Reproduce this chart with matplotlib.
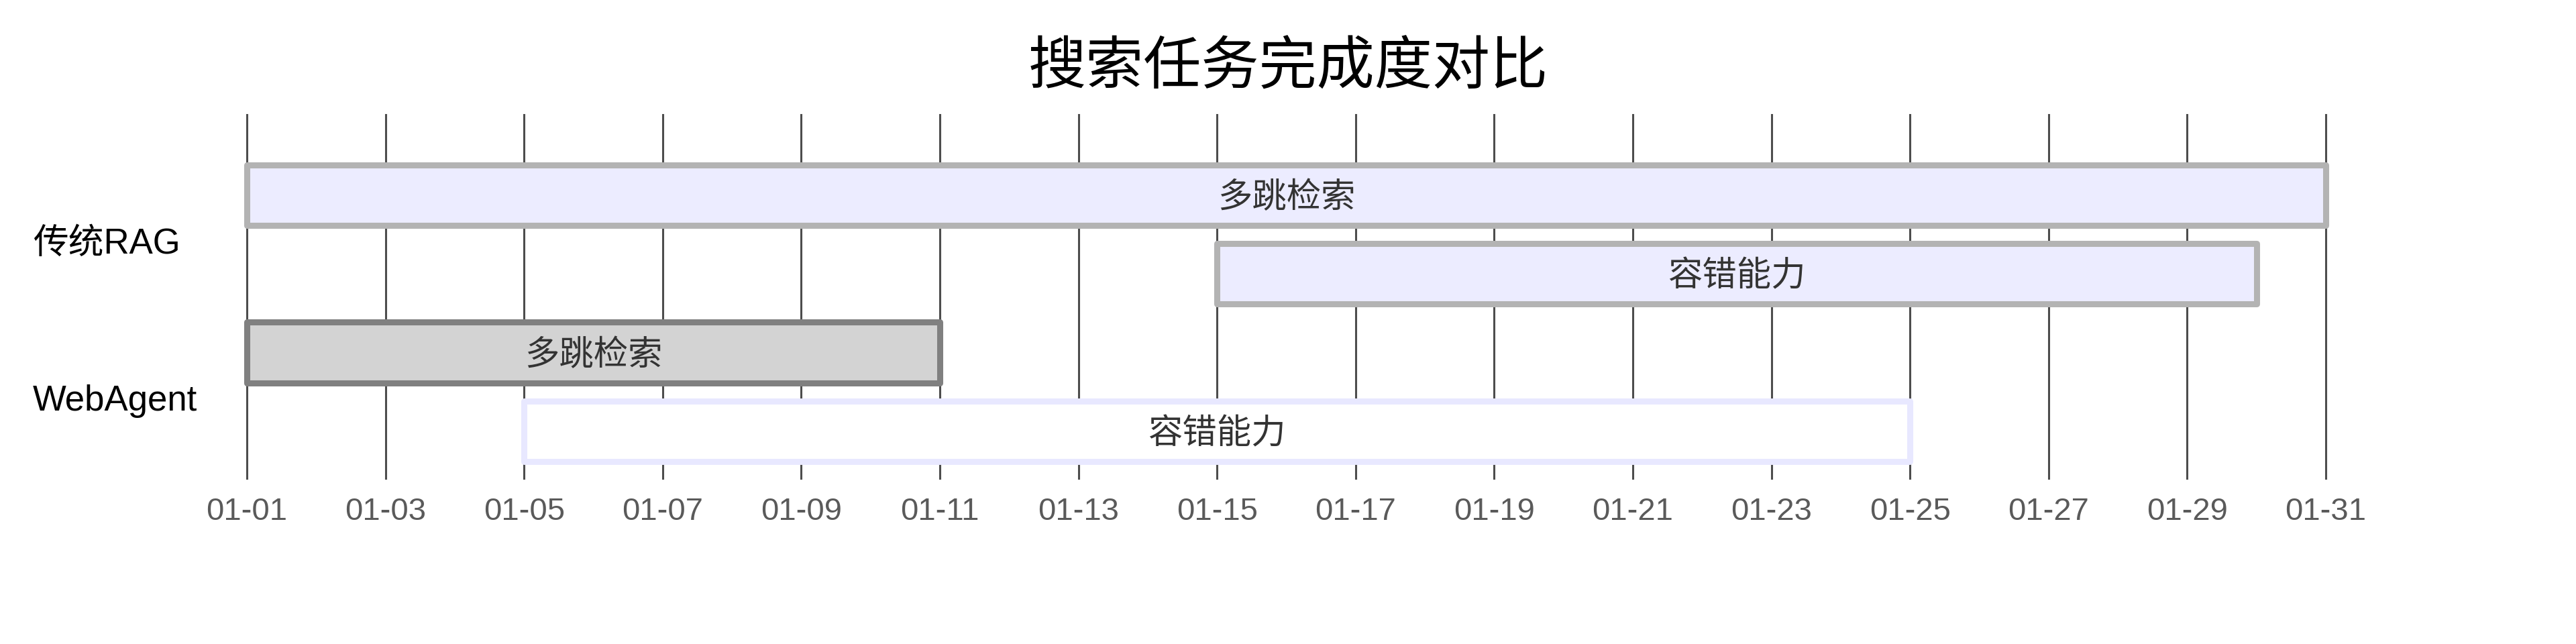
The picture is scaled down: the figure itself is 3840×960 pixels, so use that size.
import matplotlib
matplotlib.use('Agg')
import matplotlib.pyplot as plt
import matplotlib.dates as mdates
import matplotlib.transforms as mtransforms
import numpy as np
from datetime import datetime

plt.rcParams['font.family'] = ['Liberation Sans', 'Noto Sans CJK SC']

title = '搜索任务完成度对比'
sections = ['传统RAG', 'WebAgent']
task_names = ['多跳检索', '容错能力', '多跳检索', '容错能力']
task_section = [0, 0, 1, 1]
task_start = ['2024-01-01', '2024-01-15', '2024-01-01', '2024-01-05']
task_end = ['2024-01-31', '2024-01-30', '2024-01-11', '2024-01-25']

# styles (mermaid-like)
fill_colors = ['#ECECFF', '#ECECFF', '#D3D3D3', '#FFFFFF']
edge_colors = ['#B3B3B3', '#B3B3B3', '#808080', '#E8E8FF']

start = mdates.date2num([datetime.strptime(d, '%Y-%m-%d') for d in task_start])
end = mdates.date2num([datetime.strptime(d, '%Y-%m-%d') for d in task_end])
rows = np.arange(len(task_names))

fig = plt.figure(figsize=(38.4, 9.6), dpi=100)
ax = fig.add_axes([368 / 3840, 1 - 713 / 960, (3467 - 368) / 3840, (713 - 171) / 960])

ax.barh(rows, end - start, left=start, height=0.77, color=fill_colors,
        edgecolor=edge_colors, linewidth=6.5, joinstyle='round', zorder=3, clip_on=False)

for r, name, s, e in zip(rows, task_names, start, end):
    ax.text((s + e) / 2, r + 0.04, name, ha='center', va='center', fontsize=37,
            color='#333333', zorder=4)

ax.set_xlim(start.min(), end.max())
ax.set_ylim(3.597, -1.023)
ax.xaxis.set_major_locator(mdates.DayLocator(bymonthday=range(1, 32, 2)))
ax.xaxis.set_major_formatter(mdates.DateFormatter('%m-%d'))
ax.grid(axis='x', color='#4d4d4d', linewidth=2.2, zorder=0)
for gl in ax.get_xgridlines():
    gl.set_clip_on(False)
ax.set_axisbelow(True)
ax.set_yticks([])
ax.tick_params(axis='x', length=0, pad=20, labelsize=34, labelcolor='#5a5a5a')
for sp in ax.spines.values():
    sp.set_visible(False)

# section labels
trans = mtransforms.blended_transform_factory(fig.transFigure, ax.transData)
sec_rows = [np.mean([r for r, s in zip(rows, task_section) if s == i]) for i in range(len(sections))]
for i, lab in enumerate(sections):
    ax.text(49 / 3840, sec_rows[i] + 0.12, lab, transform=trans, ha='left', va='center',
            fontsize=38, color='black')

fig.text(0.5, 1 - 103 / 960, title, ha='center', va='center', fontsize=62, color='black')

fig.savefig('out.png', dpi=100, facecolor='white')
